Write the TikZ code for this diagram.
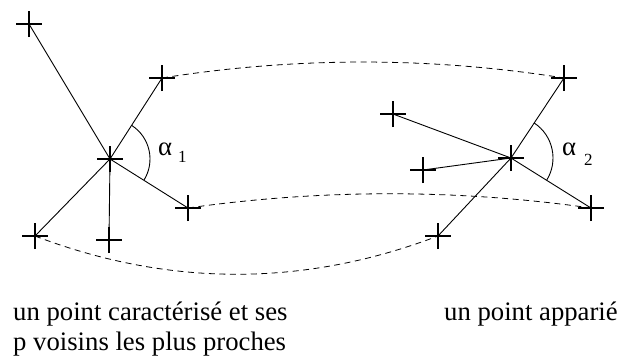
\documentclass[tikz,border=0pt]{standalone}
\usepackage{fontspec}
\setmainfont{Liberation Serif}
\begin{document}
\begin{tikzpicture}[x=1pt,y=-1pt,
  crossmark/.style={line width=2.7pt},
  link/.style={line width=0.9pt},
  match/.style={line width=0.8pt,dash pattern=on 6pt off 4.5pt},
  lbl/.style={inner sep=0pt,anchor=base west,font=\rmfamily\fontsize{26.7}{30}\selectfont},
  sublbl/.style={inner sep=0pt,anchor=base west,font=\rmfamily\fontsize{17}{20}\selectfont}]
\useasboundingbox (0,0) rectangle (618,360);
% left cluster
\coordinate (c1) at (110,159);
\coordinate (a1) at (29,24);
\coordinate (a2) at (162,78);
\coordinate (a3) at (188,208);
\coordinate (a4) at (35,236);
\coordinate (a5) at (109,240);
% right cluster
\coordinate (c2) at (511,158);
\coordinate (b1) at (564,78);
\coordinate (b2) at (393,114);
\coordinate (b3) at (423,170);
\coordinate (b4) at (591,208);
\coordinate (b5) at (438,236);
% matches
\draw[match] (a2) .. controls (296,56.7) and (430,56.7) .. (b1);
\draw[match] (a3) .. controls (322,189) and (457,189) .. (b4);
\draw[match] (a4) .. controls (169,287) and (304,287) .. (b5);
% neighbour links
\foreach \p in {a1,a2,a3,a4,a5} \draw[link] (c1) -- (\p);
\foreach \p in {b1,b2,b3,b4,b5} \draw[link] (c2) -- (\p);
% angle arcs
\draw[link] ([shift={(-57:40)}]c1) arc[start angle=-57,end angle=32,radius=40];
\draw[link] ([shift={(-56.5:42)}]c2) arc[start angle=-56.5,end angle=32,radius=42];
% crosses
\foreach \p in {c1,a1,a2,a3,a4,a5,c2,b1,b2,b3,b4,b5}
  \draw[crossmark] ([xshift=-13pt]\p) -- ([xshift=13pt]\p) ([yshift=-13pt]\p) -- ([yshift=13pt]\p);
% labels
\node[lbl] (al1) at (158,155) {α};
\node[sublbl] (s1) at (178,162) {1};
\node[lbl] (al2) at (562,155) {α};
\node[sublbl] (s2) at (584,165) {2};
\node[lbl] (t1) at (13,320) {un point caractérisé et ses};
\node[lbl] (t2) at (13,350) {p voisins les plus proches};
\node[lbl] (t3) at (444,320) {un point apparié};
\end{tikzpicture}
\end{document}
